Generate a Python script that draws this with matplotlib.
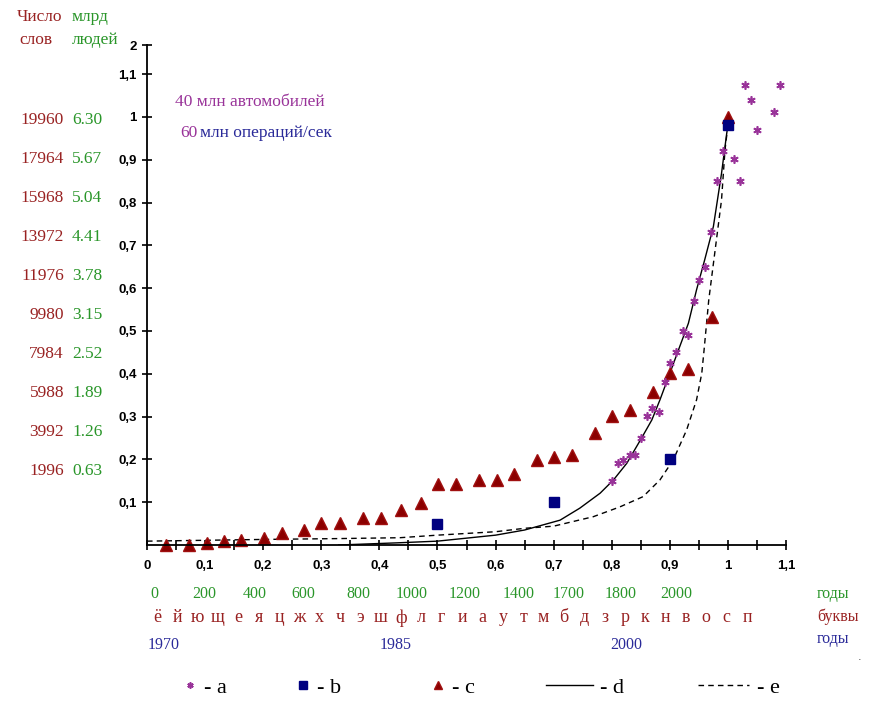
import numpy as np
import matplotlib.pyplot as plt

# series a (stars)
x_a = [0.801, 0.811, 0.820, 0.832, 0.840, 0.851, 0.861, 0.870, 0.881, 0.891, 0.901, 0.911,
       0.922, 0.931, 0.941, 0.951, 0.961, 0.971, 0.981, 0.992, 1.010, 1.021, 1.030, 1.040,
       1.050, 1.080, 1.090]
y_a = [0.150, 0.191, 0.199, 0.211, 0.211, 0.251, 0.301, 0.321, 0.311, 0.381, 0.425, 0.450,
       0.501, 0.491, 0.571, 0.618, 0.650, 0.730, 0.850, 0.921, 0.901, 0.850, 1.075, 1.040,
       0.970, 1.011, 1.075]
# series b (squares)
x_b = [0.5, 0.7, 0.9, 1.0]
y_b = [0.05, 0.10, 0.20, 0.98]
# series c (triangles)
x_c = [0.033, 0.072, 0.103, 0.133, 0.162, 0.202, 0.232, 0.271, 0.300, 0.332, 0.372, 0.402,
       0.437, 0.471, 0.501, 0.532, 0.571, 0.602, 0.632, 0.671, 0.700, 0.731, 0.772, 0.801,
       0.832, 0.871, 0.901, 0.931, 0.972, 1.0]
y_c = [0.0, 0.0, 0.005, 0.010, 0.012, 0.016, 0.029, 0.035, 0.051, 0.051, 0.064, 0.064,
       0.082, 0.098, 0.142, 0.142, 0.152, 0.153, 0.167, 0.199, 0.205, 0.210, 0.262, 0.302,
       0.315, 0.358, 0.402, 0.410, 0.533, 1.0]
# line d (solid)
x_d = [0.33, 0.43, 0.5, 0.6, 0.65, 0.711, 0.745, 0.78, 0.803, 0.826, 0.851, 0.869, 0.883,
       0.90, 0.915, 0.932, 0.946, 0.960, 0.975, 0.989, 0.998, 1.0]
y_d = [0.0, 0.005, 0.009, 0.023, 0.035, 0.058, 0.086, 0.121, 0.152, 0.191, 0.249, 0.292,
       0.339, 0.401, 0.456, 0.518, 0.596, 0.666, 0.744, 0.868, 0.962, 0.98]
# line e (dashed)
x_e = [0.0, 0.2, 0.33, 0.435, 0.5, 0.6, 0.65, 0.7, 0.768, 0.814, 0.854, 0.883, 0.906,
       0.929, 0.946, 0.955, 0.959, 0.967, 0.978, 0.989, 0.995, 1.0]
y_e = [0.009, 0.013, 0.015, 0.017, 0.023, 0.031, 0.039, 0.044, 0.066, 0.089, 0.113, 0.152,
       0.199, 0.269, 0.339, 0.401, 0.456, 0.572, 0.689, 0.806, 0.923, 0.98]

# side scales
words = ['19960', '17964', '15968', '13972', '11976', '9980', '7984', '5988', '3992', '1996']
people = ['6.30', '5.67', '5.04', '4.41', '3.78', '3.15', '2.52', '1.89', '1.26', '0.63']
green_years = ['0', '200', '400', '600', '800', '1000', '1200', '1400', '1700', '1800', '2000']
letters = ['ё', 'й', 'ю', 'щ', 'е', 'я', 'ц', 'ж', 'х', 'ч', 'э', 'ш', 'ф', 'л', 'г',
           'и', 'а', 'у', 'т', 'м', 'б', 'д', 'з', 'р', 'к', 'н', 'в', 'о', 'с', 'п']
blue_years = ['1970', '1985', '2000']

RED = '#992222'
GREEN = '#2a962a'
BLUE = '#2a2a99'
PURPLE = '#993399'
W, H = 893, 713
serif = 'Liberation Serif'

fig = plt.figure(figsize=(W / 100, H / 100), dpi=100)
ax = fig.add_axes([147 / W, 1 - 545 / H, (786 - 147) / W, (545 - 45) / H])

ax.plot(x_e, y_e, color='black', lw=1.0, ls=(0, (4, 3)), label='- e')
ax.plot(x_d, y_d, color='black', lw=1.0, label='- d')
ax.plot(x_c, y_c, ls='none', marker='^', ms=8, color='#8b0000', mec='#a01010', clip_on=False)
ax.plot(x_b, y_b, ls='none', marker='s', ms=7, color='#000080', clip_on=False)
ax.plot(x_a, y_a, ls='none', marker=(6, 2, 0), ms=6, mew=1.2, color=PURPLE, clip_on=False)

ax.set_xlim(0, 1.1)
ax.set_ylim(0, 1.168)
for s in ['top', 'right']:
    ax.spines[s].set_visible(False)
ax.spines['left'].set_linewidth(1.3)
ax.spines['bottom'].set_linewidth(1.3)

xt = np.round(np.arange(0, 1.11, 0.1), 2)
ax.set_xticks(xt)
ax.set_xticklabels(['0' if v == 0 else ('1' if v == 1 else f'{v:g}'.replace('.', ',')) for v in xt])
ax.set_xticks(np.round(np.arange(0.05, 1.1, 0.1), 2), minor=True)
yt = list(np.round(np.arange(0.1, 1.11, 0.1), 2)) + [1.168]
ax.set_yticks(yt)
ax.set_yticklabels([('1' if v == 1 else f'{v:g}'.replace('.', ',')) for v in yt[:-1]] + ['2'])
ax.tick_params(which='both', direction='inout', length=7, width=1.2, labelsize=9.5)
ax.tick_params(axis='x', pad=7)
ax.tick_params(axis='y', pad=4)
for lab in ax.get_xticklabels() + ax.get_yticklabels():
    lab.set_fontweight('bold')
    lab.set_family('Liberation Sans')

# headers on the left
fig.text(17 / W, 1 - 17 / H, 'Число', color=RED, family=serif, fontsize=12.5, va='center')
fig.text(19 / W, 1 - 40 / H, 'слов', color=RED, family=serif, fontsize=12.5, va='center')
fig.text(72 / W, 1 - 17 / H, 'млрд', color=GREEN, family=serif, fontsize=12.5, va='center')
fig.text(72 / W, 1 - 40 / H, 'людей', color=GREEN, family=serif, fontsize=12.5, va='center')
for i, (w, p) in enumerate(zip(words, people)):
    yy = 1 - (120 + 39 * i) / H
    fig.text(64 / W, yy, w, color=RED, family=serif, fontsize=12.5, ha='right', va='center')
    fig.text(72 / W, yy, p, color=GREEN, family=serif, fontsize=12.5, ha='left', va='center')

# annotations
fig.text(175 / W, 1 - 102 / H, '40 млн автомобилей', color=PURPLE, family=serif, fontsize=12.5, va='center')
fig.text(180 / W, 1 - 133 / H, '60', color=PURPLE, family=serif, fontsize=12.5, va='center')
fig.text(200 / W, 1 - 133 / H, 'млн операций/сек', color=BLUE, family=serif, fontsize=12.5, va='center')

# rows below the axis
green_px = [150, 204, 255, 303, 358, 412, 465, 519, 569, 621, 676]
for g, px in zip(green_years, green_px):
    fig.text(px / W, 1 - 594 / H, g, color=GREEN, family=serif, fontsize=11.5,
             ha='left' if g == '0' else 'center', va='center')
fig.text(817 / W, 1 - 594 / H, 'годы', color=GREEN, family=serif, fontsize=11.5, va='center')
letter_px = np.linspace(157, 747, len(letters))
for ch, px in zip(letters, letter_px):
    fig.text(px / W, 1 - 618 / H, ch, color=RED, family=serif, fontsize=13, ha='center', va='center')
fig.text(817 / W, 1 - 617 / H, 'буквы', color=RED, family=serif, fontsize=11.5, va='center')
for b, px in zip(blue_years, [148, 380, 610]):
    fig.text(px / W, 1 - 645 / H, b, color=BLUE, family=serif, fontsize=11.5, va='center')
fig.text(817 / W, 1 - 639 / H, 'годы', color=BLUE, family=serif, fontsize=11.5, va='center')
fig.text(858 / W, 1 - 660 / H, '.', color='#444444', fontsize=8)

# legend, one key per entry
h_e, h_d, h_c, h_b, h_a = ax.get_lines()
entries = [(h_a, '- a', 183, 0.6), (h_b, '- b', 296, 0.6), (h_c, '- c', 431, 0.6),
           (h_d, '- d', 546, 2.1), (h_e, '- e', 698, 2.3)]
for h, lab, px, hl in entries:
    fig.legend(handles=[h], labels=[lab], loc='center left', bbox_to_anchor=(px / W, 1 - 688 / H),
               frameon=False, handlelength=hl, handletextpad=0.35, markerscale=0.75,
               borderpad=0, borderaxespad=0, prop={'family': serif, 'size': 16})

fig.savefig('out.png', dpi=100, facecolor='white')
